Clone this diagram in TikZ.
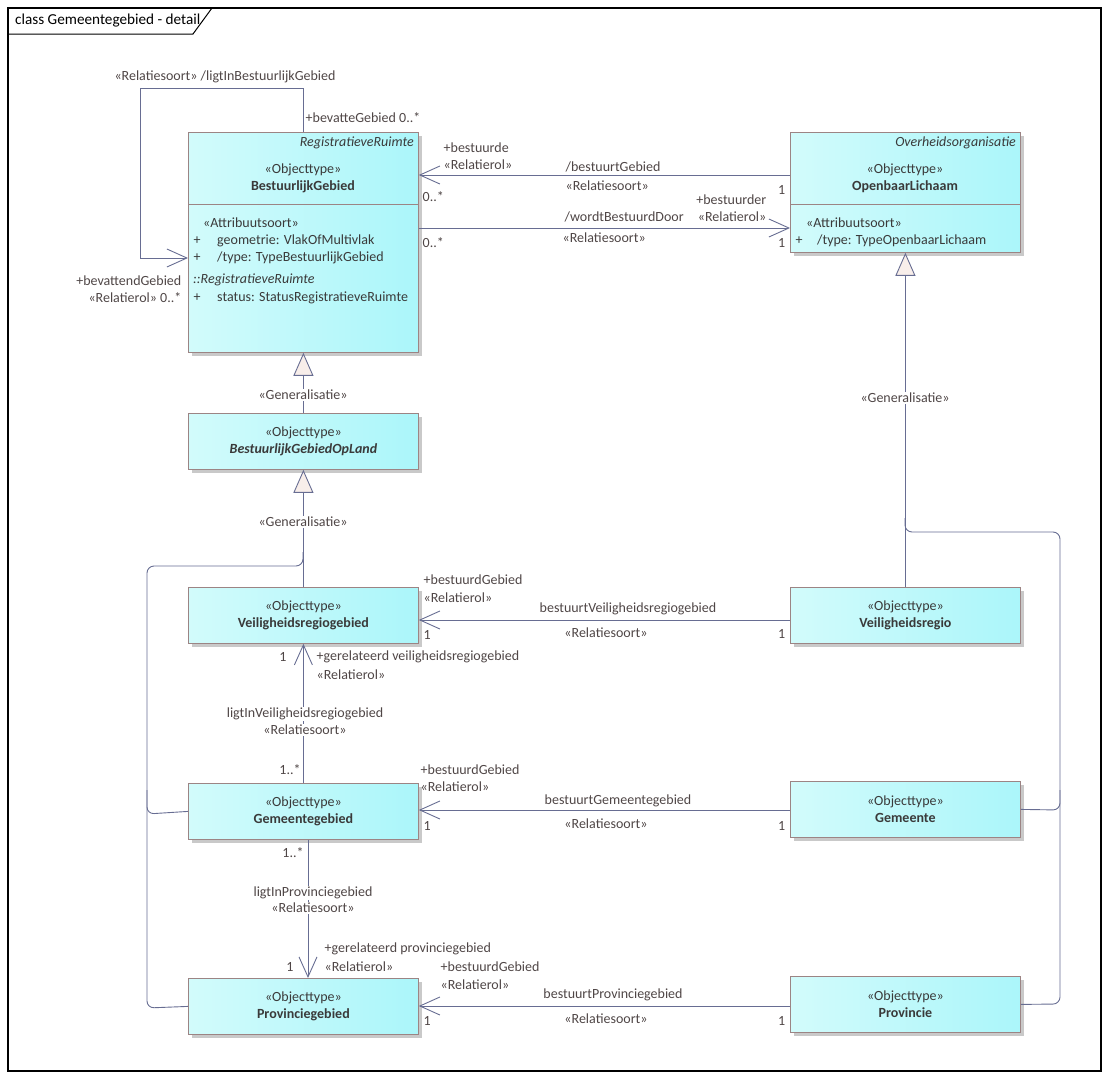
\documentclass[tikz,border=0pt]{standalone}
\usepackage{fontspec}
\setmainfont{Carlito}
\usetikzlibrary{arrows.meta,shadows,calc}
\definecolor{lnc}{HTML}{676D92}
\definecolor{brd}{HTML}{9C8484}
\definecolor{cyL}{HTML}{D2FBFB}
\definecolor{cyR}{HTML}{ABF6FA}
\definecolor{txt}{HTML}{3A3A3A}
\definecolor{lbl}{HTML}{4F4646}
\definecolor{genf}{HTML}{F8EEEA}
\definecolor{shd}{HTML}{C9C9C9}
\newcommand\fs{\fontsize{14}{17}\selectfont}
\begin{document}
\begin{tikzpicture}[x=1pt,y=-1pt,
  every node/.style={font=\fs, text=txt},
  cls/.style={draw=brd, line width=0.8pt, left color=cyL, right color=cyR,
    minimum width=230pt, anchor=north west, align=center, inner sep=0pt,
    general shadow={fill=shd, shadow xshift=4pt, shadow yshift=-4pt}},
  sm/.style={cls, minimum height=56pt},
  lab/.style={font=\fs, text=lbl, inner sep=0.5pt},
  L/.style={lab, anchor=west},
  R/.style={lab, anchor=east},
  C/.style={lab},
  W/.style={lab, fill=white, inner sep=1pt},
  assoc/.style={draw=lnc, line width=0.9pt, -{Straight Barb[length=20pt,width=18pt,line width=0.9pt]}},
  gen/.style={draw=lnc, line width=0.9pt, -{Triangle[length=23pt,width=20pt,fill=genf,line width=0.9pt]}},
  bus/.style={draw=lnc, line width=0.9pt, rounded corners=7pt}
]
\useasboundingbox (0,0) rectangle (1109,1079);
% frame
\draw[line width=1.2pt] (8,8) rectangle (1101,1071);
\draw[line width=1pt] (8,34) -- (193,34) -- (212,8);
\node[anchor=west, text=black, inner sep=0pt, font=\fontsize{15.2}{17}\selectfont] (title) at (15,21) {class Gemeentegebied - detail};

% ---------- classes ----------
\node[cls, minimum height=220pt] (bg) at (188,132) {};
\draw[draw=brd, line width=0.8pt] ($(bg.north west)+(0,72)$) -- ($(bg.north east)+(0,72)$);
\node[anchor=east, font=\fs\itshape, inner sep=0pt] (bgst) at (414,143) {RegistratieveRuimte};
\node[inner sep=0pt] (bgs) at (303,170) {«Objecttype»};
\node[inner sep=0pt, font=\fs\bfseries] (bgn) at (303,187) {BestuurlijkGebied};
\node[anchor=west, inner sep=0pt] (bga) at (203,223) {«Attribuutsoort»};
\node[inner sep=0pt] (bgp1) at (197,241) {+};
\node[anchor=west, inner sep=0pt] (bga1) at (217,241) {geometrie: VlakOfMultivlak};
\node[inner sep=0pt] (bgp2) at (197,258) {+};
\node[anchor=west, inner sep=0pt] (bga2) at (217,258) {/type: TypeBestuurlijkGebied};
\node[anchor=west, inner sep=0pt, font=\fs\itshape] (bgrr) at (193,280) {::RegistratieveRuimte};
\node[inner sep=0pt] (bgp3) at (197,298) {+};
\node[anchor=west, inner sep=0pt] (bga3) at (217,298) {status: StatusRegistratieveRuimte};

\node[cls, minimum height=120pt] (ol) at (790,132) {};
\draw[draw=brd, line width=0.8pt] ($(ol.north west)+(0,72)$) -- ($(ol.north east)+(0,72)$);
\node[anchor=east, font=\fs\itshape, inner sep=0pt] (olst) at (1016,143) {Overheidsorganisatie};
\node[inner sep=0pt] (ols) at (905,170) {«Objecttype»};
\node[inner sep=0pt, font=\fs\bfseries] (oln) at (905,187) {OpenbaarLichaam};
\node[anchor=west, inner sep=0pt] (ola) at (806,223) {«Attribuutsoort»};
\node[inner sep=0pt] (olp1) at (799,241) {+};
\node[anchor=west, inner sep=0pt] (ola1) at (817,241) {/type: TypeOpenbaarLichaam};

\node[sm] (opl) at (188,413) {«Objecttype»\\\textbf{\textit{BestuurlijkGebiedOpLand}}};
\node[sm] (vrg) at (188,587) {«Objecttype»\\\textbf{Veiligheidsregiogebied}};
\node[sm] (vr)  at (790,587) {«Objecttype»\\\textbf{Veiligheidsregio}};
\node[sm] (gg)  at (188,783) {«Objecttype»\\\textbf{Gemeentegebied}};
\node[sm] (gm)  at (790,781) {«Objecttype»\\\textbf{Gemeente}};
\node[sm] (pg)  at (188,978) {«Objecttype»\\\textbf{Provinciegebied}};
\node[sm] (pr)  at (790,976) {«Objecttype»\\\textbf{Provincie}};

% ---------- self association ----------
\coordinate (s1) at (303,88);
\coordinate (s2) at (140,88);
\coordinate (s3) at (140,258);
\draw[assoc] (s1 |- bg.north) -- (s1) -- (s2) -- (s3) -- (s3 -| bg.west);
\node[C] (sl1) at (225,77) {«Relatiesoort» /ligtInBestuurlijkGebied};
\node[L] (sl2) at (305,118) {+bevatteGebied 0..*};
\node[R] (sl3) at (182,281) {+bevattendGebied};
\node[R] (sl4) at (182,298) {«Relatierol» 0..*};

% ---------- bestuurtGebied / wordtBestuurdDoor ----------
\coordinate (ya) at (0,175);
\coordinate (yb) at (0,228);
\draw[assoc] (ya -| ol.west) -- (ya -| bg.east);
\draw[assoc] (yb -| bg.east) -- (yb -| ol.west);
\node[L] (a1) at (443,148) {+bestuurde};
\node[L] (a2) at (443,165) {«Relatierol»};
\node[L] (a3) at (565,167) {/bestuurtGebied};
\node[L] (a4) at (565,186) {«Relatiesoort»};
\node[L] (a5) at (422,197) {0..*};
\node[R] (a6) at (786,190) {1};
\node[L] (b1) at (564,217) {/wordtBestuurdDoor};
\node[L] (b2) at (562,238) {«Relatiesoort»};
\node[R] (b3) at (767,200) {+bestuurder};
\node[R] (b4) at (767,217) {«Relatierol»};
\node[L] (b5) at (422,243) {0..*};
\node[R] (b6) at (786,243) {1};

% ---------- generalizations left ----------
\draw[gen] (opl.north) -- (bg.south);
\node[W] (g1) at (303,395) {«Generalisatie»};
\draw[gen] (vrg.north) -- (opl.south);
\draw[bus] (pg.west) -- (147,1008) -- (147,566) -- (303,566) -- (303,552);
\draw[bus] (gg.west) -- (147,814) -- (147,790);
\node[W] (g2) at (303,522) {«Generalisatie»};

% ---------- generalizations right ----------
\draw[gen] (vr.north) -- (ol.south);
\draw[bus] (pr.east) -- (1060,1004) -- (1060,532) -- (905,532) -- (905,518);
\draw[bus] (gm.east) -- (1060,810) -- (1060,790);
\node[W] (g3) at (905,398) {«Generalisatie»};

% ---------- Veiligheidsregio ----------
\coordinate (yc) at (0,620);
\draw[assoc] (yc -| vr.west) -- (yc -| vrg.east);
\node[L] (c1) at (423,580) {+bestuurdGebied};
\node[L] (c2) at (423,598) {«Relatierol»};
\node[C] (c3) at (628,609) {bestuurtVeiligheidsregiogebied};
\node[C] (c4) at (606,633) {«Relatiesoort»};
\node[L] (c5) at (423,635) {1};
\node[R] (c6) at (786,634) {1};

% ---------- ligtInVeiligheidsregiogebied ----------
\draw[assoc] (gg.north) -- (vrg.south);
\node[C] (d1) at (283,657) {1};
\node[L] (d2) at (316,657) {+gerelateerd veiligheidsregiogebied};
\node[L] (d3) at (316,675) {«Relatierol»};
\node[W] (d4) at (305,714) {ligtInVeiligheidsregiogebied};
\node[W] (d5) at (305,730) {«Relatiesoort»};
\node[C] (d6) at (290,770) {1..*};

% ---------- Gemeente ----------
\coordinate (ye) at (0,810);
\draw[assoc] (ye -| gm.west) -- (ye -| gg.east);
\node[L] (e1) at (420,770) {+bestuurdGebied};
\node[L] (e2) at (420,787) {«Relatierol»};
\node[C] (e3) at (618,801) {bestuurtGemeentegebied};
\node[C] (e4) at (606,824) {«Relatiesoort»};
\node[L] (e5) at (423,826) {1};
\node[R] (e6) at (786,826) {1};

% ---------- ligtInProvinciegebied ----------
\coordinate (xf) at (308,0);
\draw[assoc] (xf |- gg.south) -- (xf |- pg.north);
\node[C] (f1) at (293,853) {1..*};
\node[W] (f2) at (313,893) {ligtInProvinciegebied};
\node[W] (f3) at (313,908) {«Relatiesoort»};
\node[L] (f4) at (324,949) {+gerelateerd provinciegebied};
\node[L] (f5) at (324,967) {«Relatierol»};
\node[C] (f6) at (290,967) {1};

% ---------- Provincie ----------
\coordinate (yh) at (0,1006);
\draw[assoc] (yh -| pr.west) -- (yh -| pg.east);
\node[L] (h1) at (440,967) {+bestuurdGebied};
\node[L] (h2) at (440,985) {«Relatierol»};
\node[C] (h3) at (613,995) {bestuurtProvinciegebied};
\node[C] (h4) at (606,1019) {«Relatiesoort»};
\node[L] (h5) at (423,1021) {1};
\node[R] (h6) at (786,1021) {1};
\end{tikzpicture}
\end{document}
